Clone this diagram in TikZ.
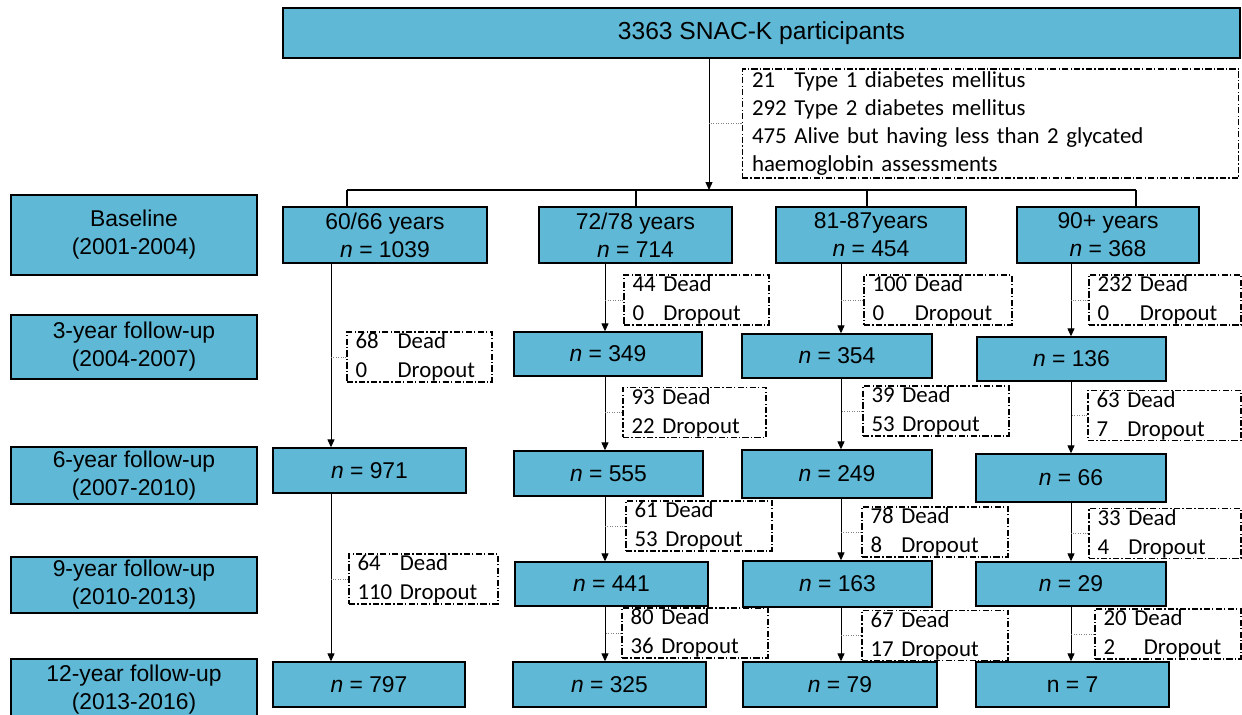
\documentclass[tikz,border=0pt]{standalone}
\usepackage{fontspec}
\setmainfont{Liberation Sans}
\newfontfamily\calfont{Carlito}
\usetikzlibrary{arrows.meta}
\definecolor{colbox}{HTML}{5EB8D6}
\newcommand{\loss}[3][]{%
  \begin{tabular}{@{}l@{ }l@{}}#2 & Dead\\ #3 & #1Dropout\end{tabular}}

\begin{document}
\begin{tikzpicture}[
  x=0.02cm, y=-0.02cm,
  font=\fontsize{13}{16}\selectfont,
  cohort/.style={draw,fill=colbox,line width=0.8pt,align=center,inner sep=1pt},
  stage/.style={cohort,minimum width=4.92cm},
  lost/.style={draw,line width=0.6pt,dash pattern=on 3.5pt off 1.3pt on 0.7pt off 1.3pt,
    align=left,inner xsep=0.17cm,inner ysep=0pt,minimum height=1cm,
    text height=6.5pt,text depth=0pt,font=\calfont\fontsize{13}{16.5}\selectfont},
  flow/.style={line width=0.5pt,-{Triangle[length=4.5pt,width=4pt]}},
  tie/.style={gray,line width=0.5pt,dash pattern=on 0.6pt off 0.8pt},
  line/.style={line width=0.6pt},
]
  \useasboundingbox (0,0) rectangle (1242,715);
  % ---- whole cohort and exclusions ----
  \node[cohort,minimum width=19.14cm,minimum height=1cm,font=\fontsize{14}{16}\selectfont] (all) at (761.5,33) {3363 SNAC-K participants};
  \node[lost,text width=9.54cm,inner xsep=0.2cm,minimum height=2.18cm,
    font=\calfont\fontsize{13}{16}\selectfont] (excl) at (990.5,123.5)
    {\begin{tabular}{@{}l@{ }l@{}}21 & Type 1 diabetes mellitus\\ 292 & Type 2 diabetes mellitus\\
     475 & Alive but having less than 2 glycated\\ \multicolumn{2}{@{}l@{}}{haemoglobin assessments}\end{tabular}};
  % ---- waves ----
  \node[stage,minimum height=1.6cm]  (base) at (134,235)   {Baseline\\(2001-2004)};
  \node[stage,minimum height=1.28cm] (fu3)  at (134,347)   {3-year follow-up\\(2004-2007)};
  \node[stage,minimum height=1.14cm] (fu6)  at (134,475.5) {6-year follow-up\\(2007-2010)};
  \node[stage,minimum height=1.12cm] (fu9)  at (134,585)   {9-year follow-up\\(2010-2013)};
  \node[stage,minimum height=1.22cm] (fu12) at (134,689.5) {12-year follow-up\\(2013-2016)};
  % ---- age groups ----
  \node[cohort,minimum width=4.08cm,minimum height=1.12cm] (g1) at (385,235)   {60/66 years\\\textit{n} = 1039};
  \node[cohort,minimum width=3.86cm,minimum height=1.12cm] (g2) at (635.5,235) {72/78 years\\\textit{n} = 714};
  \node[cohort,minimum width=3.8cm,minimum height=1.12cm]  (g3) at (871,235)   {81-87years\\\textit{n} = 454};
  \node[cohort,minimum width=3.64cm,minimum height=1.12cm] (g4) at (1108,235)  {90+ years\\\textit{n} = 368};
  % 3-year
  \node[cohort,minimum width=3.76cm,minimum height=0.88cm] (r2) at (608,354)    {\textit{n} = 349};
  \node[cohort,minimum width=3.8cm,minimum height=0.88cm]  (r3) at (837,356)    {\textit{n} = 354};
  \node[cohort,minimum width=3.78cm,minimum height=0.88cm] (r4) at (1071.5,359) {\textit{n} = 136};
  % 6-year
  \node[cohort,minimum width=3.86cm,minimum height=0.9cm]  (s1) at (369.5,470.5) {\textit{n} = 971};
  \node[cohort,minimum width=3.78cm,minimum height=0.9cm]  (s2) at (608.5,473.5) {\textit{n} = 555};
  \node[cohort,minimum width=3.8cm,minimum height=0.96cm]  (s3) at (837,474)     {\textit{n} = 249};
  \node[cohort,minimum width=3.8cm,minimum height=0.96cm]  (s4) at (1071,478)    {\textit{n} = 66};
  % 9-year
  \node[cohort,minimum width=3.86cm,minimum height=0.88cm] (t2) at (611.5,584) {\textit{n} = 441};
  \node[cohort,minimum width=3.78cm,minimum height=0.92cm] (t3) at (837.5,584) {\textit{n} = 163};
  \node[cohort,minimum width=3.8cm,minimum height=0.88cm]  (t4) at (1071,584)  {\textit{n} = 29};
  % 12-year
  \node[cohort,minimum width=3.84cm,minimum height=0.9cm] (u1) at (369,684.5)    {\textit{n} = 797};
  \node[cohort,minimum width=3.86cm,minimum height=0.9cm] (u2) at (609.5,684.5)  {\textit{n} = 325};
  \node[cohort,minimum width=3.88cm,minimum height=0.9cm] (u3) at (840,684.5)    {\textit{n} = 79};
  \node[cohort,minimum width=3.86cm,minimum height=0.9cm] (u4) at (1072.5,684.5) {n = 7};
  % ---- losses ----
  \node[lost,text width=2.56cm] (d1a) at (419.5,357)  {\loss{68\enspace}{0}};
  \node[lost,text width=2.64cm] (d1b) at (423.5,579)  {\loss{64}{110}};
  \node[lost,text width=2.56cm] (d2a) at (696.5,300)  {\loss{44}{0}};
  \node[lost,text width=2.52cm] (d2b) at (694.5,412.5){\loss{93}{22}};
  \node[lost,text width=2.58cm] (d2c) at (699,526)    {\loss{61}{53}};
  \node[lost,text width=2.58cm] (d2d) at (695,633)    {\loss{80}{36}};
  \node[lost,text width=2.62cm] (d3a) at (938,300)    {\loss{100}{0}};
  \node[lost,text width=2.58cm] (d3b) at (936,411)    {\loss{39}{53}};
  \node[lost,text width=2.58cm] (d3c) at (935,532)    {\loss{78}{8}};
  \node[lost,text width=2.58cm] (d3d) at (935,635.5)  {\loss{67}{17}};
  \node[lost,text width=2.70cm] (d4a) at (1165,300)   {\loss{232}{0}};
  \node[lost,text width=2.72cm] (d4b) at (1164.5,415.5){\loss{63}{7}};
  \node[lost,text width=2.70cm] (d4c) at (1165,533.5) {\loss{33}{4}};
  \node[lost,text width=2.58cm] (d4d) at (1168,634)   {\loss[\hspace{5.5pt}]{20}{2}};
  % ---- connectors ----
  \coordinate (hub) at (709,190);
  \coordinate (j1) at (347,190);
  \coordinate (j2) at (636,190);
  \coordinate (j3) at (867,190);
  \coordinate (j4) at (1136,190);
  \coordinate (x1) at (331,0);
  \coordinate (x2) at (605,0);
  \coordinate (x3) at (841,0);
  \coordinate (x4) at (1071,0);
  \draw[flow] (all.south -| hub) -- (hub);
  \draw[tie] (excl.west) -- (excl.west -| hub);
  \draw[line] (j1) -- (j4);
  \foreach \j/\g in {j1/g1,j2/g2,j3/g3,j4/g4}
    \draw[line] (\j) -- (\j |- \g.north);
  \draw[flow] (g1.south -| x1) -- (s1.north -| x1);
  \draw[flow] (s1.south -| x1) -- (u1.north -| x1);
  \draw[tie] (d1a.west) -- (d1a.west -| x1);
  \draw[tie] (d1b.west) -- (d1b.west -| x1);
  \foreach \c in {2,3,4}{
    \draw[flow] (g\c.south -| x\c) -- (r\c.north -| x\c);
    \draw[flow] (r\c.south -| x\c) -- (s\c.north -| x\c);
    \draw[flow] (s\c.south -| x\c) -- (t\c.north -| x\c);
    \draw[flow] (t\c.south -| x\c) -- (u\c.north -| x\c);
    \foreach \k in {a,b,c,d}
      \draw[tie] (d\c\k.west) -- (d\c\k.west -| x\c);
  }
\end{tikzpicture}
\end{document}
